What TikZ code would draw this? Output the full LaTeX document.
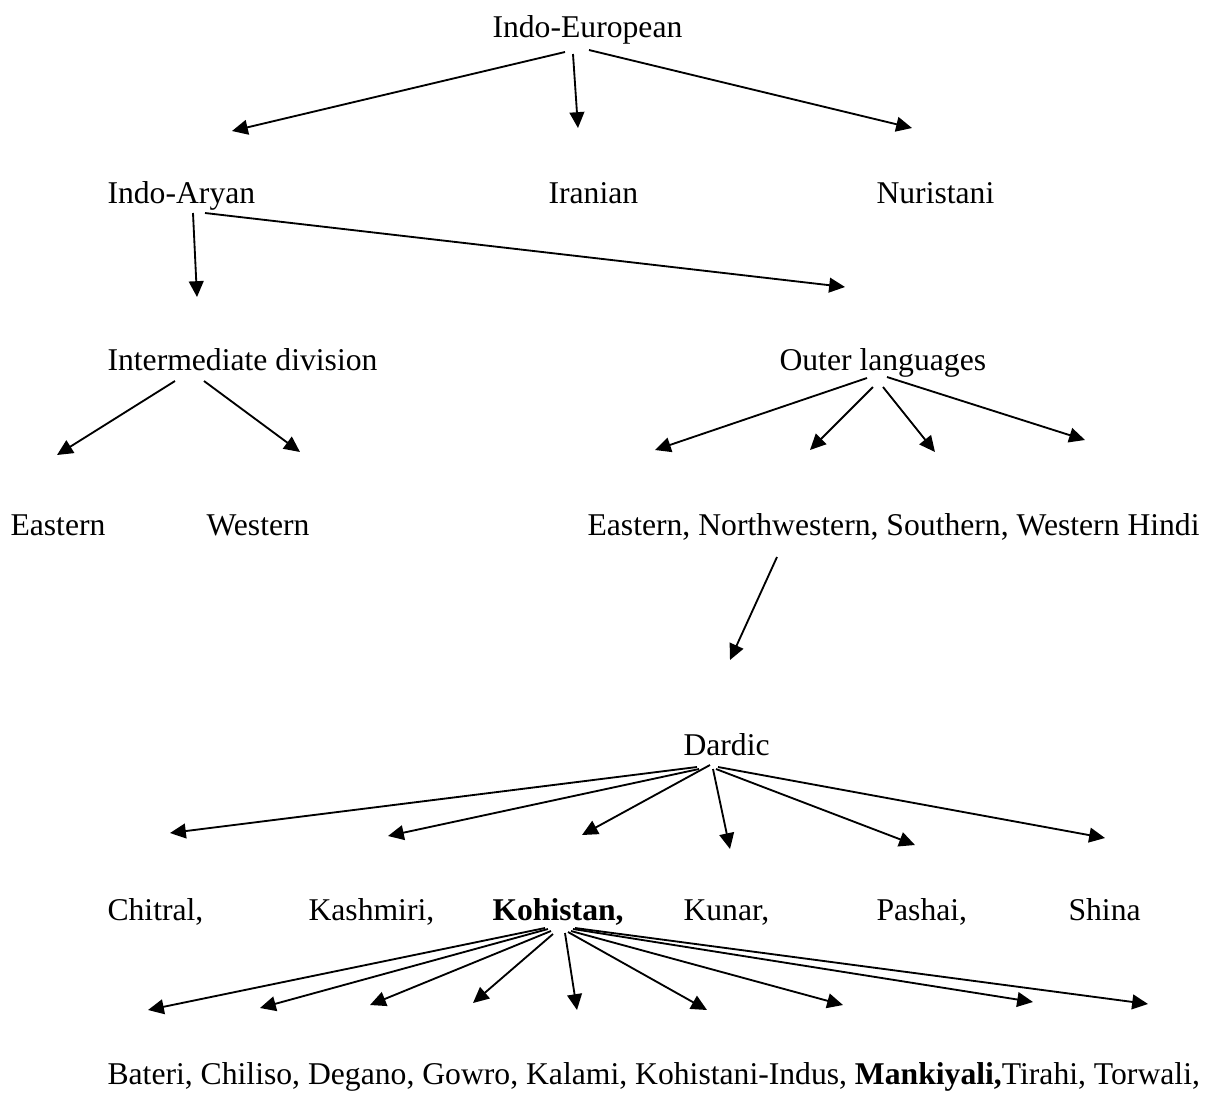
\documentclass[tikz,border=0pt]{standalone}
\usepackage{fontspec}
\setmainfont{Liberation Serif}
\usetikzlibrary{arrows.meta}

\begin{document}
\begin{tikzpicture}[
  x=0.379pt, y=-0.379pt,
  lang/.style={anchor=base west, inner sep=0pt, font=\fontsize{12}{14}\selectfont},
  arr/.style ={-{Triangle[length=6pt, width=5.6pt]}, line width=0.7pt, draw=black},
]
\useasboundingbox (0,0) rectangle (1217,1093);

% ---------- nodes ----------
\node[lang] (ie)   at (492,37)   {Indo-European};
\node[lang] (ia)   at (107,203)  {Indo-Aryan};
\node[lang] (ir)   at (548,203)  {Iranian};
\node[lang] (nu)   at (876,203)  {Nuristani};
\node[lang] (idiv) at (107,370)  {Intermediate division};
\node[lang] (outl) at (779,370)  {Outer languages};
\node[lang] (east) at (10,535)   {Eastern};
\node[lang] (west) at (206,535)  {Western};
\node[lang] (ensw) at (587,535)  {Eastern, Northwestern, Southern, Western Hindi};
\node[lang] (dard) at (683,755)  {Dardic};
\node[lang] (chit) at (107,920)  {Chitral,};
\node[lang] (kash) at (308,920)  {Kashmiri,};
\node[lang] (kohi) at (492,920)  {\textbf{Kohistan,}};
\node[lang] (kuna) at (683,920)  {Kunar,};
\node[lang] (pash) at (876,920)  {Pashai,};
\node[lang] (shin) at (1068,920) {Shina};
\node[lang] (kohl) at (107,1084) {Bateri, Chiliso, Degano, Gowro, Kalami, Kohistani-Indus, \textbf{Mankiyali,}Tirahi, Torwali,};

% ---------- arrow ends ----------
\foreach \n/\x/\y in {t-ia/232/131, t-ir/578/128, t-nu/912/128,
                      t-idiv/197/297, t-outl/845/287,
                      t-east/57/455, t-west/300/452,
                      t-o1/655/450, t-o2/810/450, t-o3/935/452, t-o4/1085/440,
                      t-dard/730/660,
                      t-chit/170/833, t-kash/388/836, t-kohi/582/835,
                      t-kuna/730/849, t-pash/915/845, t-shin/1105/838,
                      t-k1/148/1010, t-k2/260/1008, t-k3/370/1005, t-k4/473/1003, t-k5/577/1010,
                      t-k6/707/1010, t-k7/843/1005, t-k8/1033/1002, t-k9/1148/1004}
  \coordinate (\n) at (\x,\y);

% ---------- Indo-European ----------
\draw[arr] ([shift={(73,15)}]ie.base west) -- (t-ia);
\draw[arr] ([shift={(81,17)}]ie.base west) -- (t-ir);
\draw[arr] ([shift={(97,13)}]ie.base west) -- (t-nu);

% ---------- Indo-Aryan ----------
\draw[arr] ([shift={(86,10)}]ia.base west) -- (t-idiv);
\draw[arr] ([shift={(98,10)}]ia.base west) -- (t-outl);

% ---------- Intermediate / Outer ----------
\draw[arr] ([shift={(68,11)}]idiv.base west) -- (t-east);
\draw[arr] ([shift={(97,11)}]idiv.base west) -- (t-west);
\draw[arr] ([shift={(88,8)}]outl.base west)   -- (t-o1);
\draw[arr] ([shift={(94,17)}]outl.base west)  -- (t-o2);
\draw[arr] ([shift={(104,17)}]outl.base west) -- (t-o3);
\draw[arr] ([shift={(108,7)}]outl.base west)  -- (t-o4);
\draw[arr] ([shift={(190,22)}]ensw.base west) -- (t-dard);

% ---------- Dardic ----------
\draw[arr] ([shift={(14,12)}]dard.base west) -- (t-chit);
\draw[arr] ([shift={(16,14)}]dard.base west) -- (t-kash);
\draw[arr] ([shift={(27,10)}]dard.base west) -- (t-kohi);
\draw[arr] ([shift={(30,14)}]dard.base west) -- (t-kuna);
\draw[arr] ([shift={(33,14)}]dard.base west) -- (t-pash);
\draw[arr] ([shift={(35,12)}]dard.base west) -- (t-shin);

% ---------- Kohistan ----------
\foreach \dx/\dy/\t in {53/8/k1, 56/9/k2, 59/11/k3, 61/14/k4, 73/13/k5,
                        76/12/k6, 79/11/k7, 81/9/k8, 83/8/k9}
  \draw[arr] ([shift={(\dx,\dy)}]kohi.base west) -- (t-\t);

\end{tikzpicture}
\end{document}
